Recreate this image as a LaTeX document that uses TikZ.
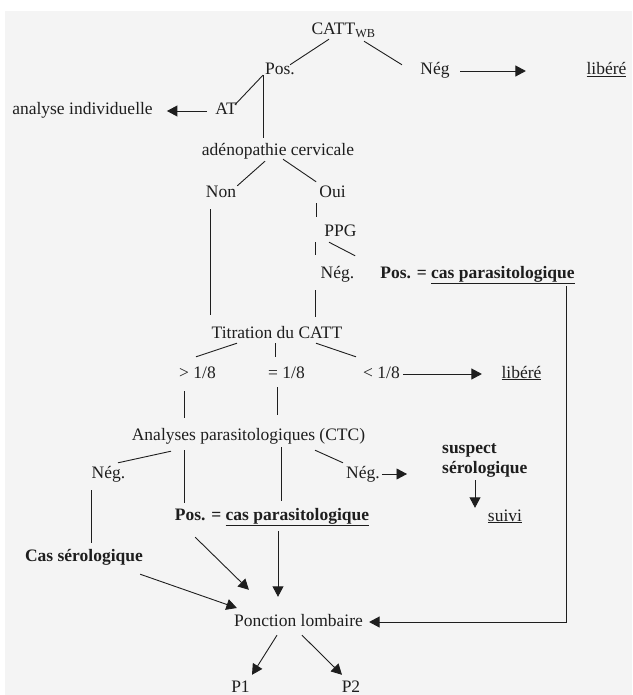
\documentclass[tikz,border=0pt]{standalone}
\usepackage{fontspec}
\setmainfont{Liberation Serif}
\usepackage{tikz}
\usetikzlibrary{arrows.meta, calc, positioning}
\definecolor{bggray}{HTML}{F4F4F4}
\definecolor{ink}{HTML}{1E1E1E}
\tikzset{
    lbl/.style={inner sep=0pt, text height=12pt, text depth=4pt, anchor=base, text=ink, font=\fontsize{17.5}{20}\selectfont},
    bld/.style={lbl, font=\fontsize{17.5}{20}\selectfont\bfseries},
    ln/.style={line width=0.9pt, draw=ink},
    arr/.style={ln, -{Triangle[length=10.5pt, width=11pt]}}
}

\begin{document}
\begin{tikzpicture}[x=1pt, y=-1pt]
        % background
        \useasboundingbox (0,0) rectangle (632,695);
        \fill[bggray] (5,11) rectangle (632,695);

        % first test
        \node (catt) [lbl] at (343.5,35) {CATT\textsubscript{WB}};
        \node (pos) [lbl] at (280,75) {Pos.};
        \node (neg) [lbl] at (435,75) {Nég};
        \node (lib1) [lbl] at (606.5,75) {\underline{libéré}};
        \node (at) [lbl] at (226,115) {AT};
        \node (anal) [lbl] at (82.5,115) {analyse individuelle};

        % clinical exam
        \node (aden) [lbl] at (278,156) {adénopathie cervicale};
        \node (non) [lbl] at (221,197) {Non};
        \node (oui) [lbl] at (332.5,197) {Oui};
        \node (ppg) [lbl] at (340.5,236) {PPG};
        \node (neg2) [lbl] at (337.5,278) {Nég.};
        \node (pospc) [bld] at (477.5,278) {Pos. = \underline{cas parasitologique}};

        % titration
        \node (titr) [lbl] at (277,338) {Titration du CATT};
        \node (gt) [lbl] at (197.5,378) {> 1/8};
        \node (eq) [lbl] at (286.5,378) {= 1/8};
        \node (lt) [lbl] at (381.5,378) {< 1/8};
        \node (lib2) [lbl] at (521.5,378) {\underline{libéré}};

        % parasitology
        \node (ctc) [lbl] at (248.5,440) {Analyses parasitologiques (CTC)};
        \node (negl) [lbl] at (108.5,478) {Nég.};
        \node (negr) [lbl] at (363,478) {Nég.};
        \node (susp) [inner sep=0pt, anchor=north west, align=left, text=ink, font=\fontsize{17.5}{20}\selectfont\bfseries] at (442,443) {suspect\\sérologique};
        \node (pos2) [bld] at (272,520) {Pos. = \underline{cas parasitologique}};
        \node (suivi) [lbl] at (505,521) {\underline{suivi}};
        \node (cas) [bld] at (84,561) {Cas sérologique};

        % lumbar puncture
        \node (pl) [lbl] at (298.5,626) {Ponction lombaire};
        \node (p1) [lbl] at (240.5,692) {P1};
        \node (p2) [lbl] at (351,692) {P2};

        % Connections
        \draw[ln] ([xshift=-14.5pt]catt.south) -- ([xshift=10pt,yshift=-2pt]pos.north);
        \draw[ln] ([xshift=20.5pt,yshift=-2pt]catt.south) -- ([xshift=-33pt,yshift=-2pt]neg.north);
        \draw[arr] ([xshift=10.5pt]neg.east) -- ([xshift=-60.5pt]lib1.west);
        \draw[ln] ([xshift=-2pt,yshift=4pt]pos.south west) -- ([xshift=-2pt,yshift=-2pt]at.north east);
        \draw[ln, shorten >=2pt] ([xshift=-2pt,yshift=4pt]pos.south west) -- ([xshift=-2pt,yshift=4pt]pos.south west |- aden.north);
        \draw[arr] ([xshift=-8pt]at.west) -- ([xshift=14pt]anal.east);

        \draw[ln] ([xshift=-13pt,yshift=-1pt]aden.south) -- ([xshift=1pt,yshift=-1pt]non.north east);
        \draw[ln] ([xshift=5pt,yshift=1pt]aden.south) -- ([xshift=-3pt,yshift=3pt]oui.north west);
        \draw[ln, shorten <=8pt, shorten >=11pt] ([xshift=-11pt]non.south) -- ([xshift=-11pt]non.south |- titr.north);
        \draw[ln, shorten <=2pt, shorten >=7pt] ([xshift=-16.5pt]oui.south) -- ([xshift=-16.5pt]oui.south |- ppg.north);
        \draw[ln, shorten <=2pt, shorten >=11pt] ([xshift=-25.5pt]ppg.south) -- ([xshift=-25.5pt]ppg.south |- neg2.north);
        \draw[ln] ([xshift=-11.5pt,yshift=-2pt]ppg.south) -- ([xshift=-25pt,yshift=10pt]pospc.north west);
        \draw[ln, shorten <=8pt, shorten >=9pt] ([xshift=-22.5pt]neg2.south) -- ([xshift=-22.5pt]neg2.south |- titr.north);

        \draw[ln] ([xshift=-40pt,yshift=-1pt]titr.south) -- ([xshift=-1.5pt,yshift=9pt]gt.north);
        \draw[ln, shorten <=1pt, shorten >=9pt] ([xshift=-2pt]titr.south) -- ([xshift=-2pt]titr.south |- eq.north);
        \draw[ln] ([xshift=39pt,yshift=-1pt]titr.south) -- ([xshift=-25.5pt,yshift=9pt]lt.north);
        \draw[arr] ([xshift=3pt]lt.east) -- ([xshift=-19.5pt]lib2.west);
        \draw[ln, shorten <=9pt, shorten >=10pt] ([xshift=-13.5pt]gt.south) -- ([xshift=-13.5pt]gt.south |- ctc.north);
        \draw[ln, shorten <=5pt, shorten >=13pt] ([xshift=-9.5pt]eq.south) -- ([xshift=-9.5pt]eq.south |- ctc.north);

        \draw[ln] ([xshift=-77.5pt,yshift=-7pt]ctc.south) -- ([xshift=9.5pt,yshift=3pt]negl.north);
        \draw[ln, shorten <=6pt, shorten >=5pt] ([xshift=-64.5pt]ctc.south) -- ([xshift=-64.5pt]ctc.south |- pos2.north);
        \draw[ln, shorten <=3pt, shorten >=7pt] ([xshift=32.5pt]ctc.south) -- ([xshift=32.5pt]ctc.south |- pos2.north);
        \draw[ln] ([xshift=66.5pt,yshift=-6pt]ctc.south) -- ([xshift=-20pt,yshift=3pt]negr.north);
        \draw[arr, shorten <=2pt, shorten >=35pt] (negr.east) -- (negr.east -| susp.west);
        \draw[arr, shorten <=3pt, shorten >=1pt] ([xshift=33pt]susp.south west) -- ([xshift=33pt]susp.south west |- suivi.north);
        \draw[ln, shorten <=8pt, shorten >=6pt] ([xshift=-17.5pt]negl.south) -- ([xshift=-17.5pt]negl.south |- cas.north);

        \draw[arr] ([xshift=20.5pt,yshift=-13pt]pos2.south west) -- ([xshift=15pt,yshift=24pt]pl.north west);
        \draw[arr, shorten <=7pt, shorten >=17pt] ([xshift=6pt]pos2.south) -- ([xshift=6pt]pos2.south |- pl.north);
        \draw[arr] ([xshift=-3pt,yshift=-9pt]cas.south east) -- ([xshift=3pt,yshift=14pt]pl.west);
        \draw[arr] ([xshift=-8pt,yshift=-4pt]pospc.south east) |- ([xshift=6pt]pl.east);
        \draw[arr] ([xshift=-21.5pt,yshift=-5pt]pl.south) -- ([xshift=11.5pt,yshift=5pt]p1.north);
        \draw[arr] ([xshift=3.5pt,yshift=-5pt]pl.south) -- ([xshift=-9pt,yshift=5pt]p2.north);
    \end{tikzpicture}
\end{document}
